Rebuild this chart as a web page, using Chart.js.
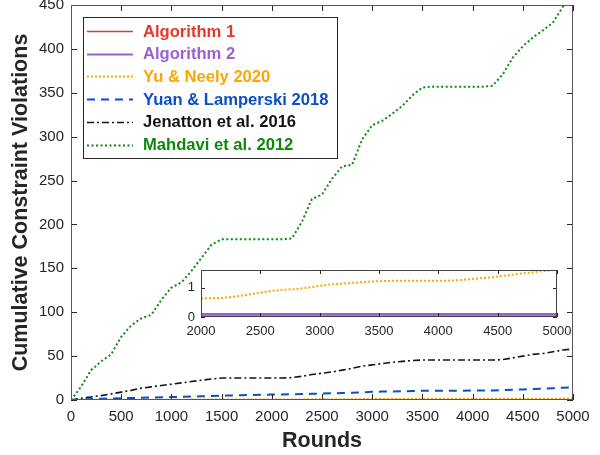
<!DOCTYPE html>
<html lang="en">

<head>
  <meta charset="UTF-8">
  <title>Cumulative Constraint Violations</title>
  <script src="https://cdn.jsdelivr.net/npm/chart.js"></script>
  <style>
    body { margin: 0; background: #fff; }
    .wrap { position: relative; width: 600px; height: 455px; }
    #mainChart { position: absolute; left: 0; top: 0; }
    #insetChart { position: absolute; left: 160px; top: 262px; }
  </style>
</head>

<body>
  <div class="wrap">
    <canvas id="mainChart" width="600" height="455"></canvas>
    <canvas id="insetChart" width="420" height="80"></canvas>
  </div>

  <script>
    // rounds (x values), every 100 rounds
    const rounds = [0, 100, 200, 300, 400, 500, 600, 700, 800, 900,
      1000, 1100, 1200, 1300, 1400, 1500, 1600, 1700, 1800, 1900,
      2000, 2100, 2200, 2300, 2400, 2500, 2600, 2700, 2800, 2900,
      3000, 3100, 3200, 3300, 3400, 3500, 3600, 3700, 3800, 3900,
      4000, 4100, 4200, 4300, 4400, 4500, 4600, 4700, 4800, 4900, 5000];

    const algo1 = [0, 0.03, 0.03, 0.03, 0.03, 0.03, 0.03, 0.03, 0.03, 0.03,
      0.03, 0.03, 0.03, 0.03, 0.03, 0.03, 0.03, 0.03, 0.03, 0.03,
      0.03, 0.03, 0.03, 0.03, 0.03, 0.03, 0.03, 0.03, 0.03, 0.03,
      0.03, 0.03, 0.03, 0.03, 0.03, 0.03, 0.03, 0.03, 0.03, 0.03,
      0.03, 0.03, 0.03, 0.03, 0.03, 0.03, 0.03, 0.03, 0.03, 0.03, 0.03];

    const algo2 = [0, 0.1, 0.1, 0.1, 0.1, 0.1, 0.1, 0.1, 0.1, 0.1,
      0.1, 0.1, 0.1, 0.1, 0.1, 0.1, 0.1, 0.1, 0.1, 0.1,
      0.1, 0.1, 0.1, 0.1, 0.1, 0.1, 0.1, 0.1, 0.1, 0.1,
      0.1, 0.1, 0.1, 0.1, 0.1, 0.1, 0.1, 0.1, 0.1, 0.1,
      0.1, 0.1, 0.1, 0.1, 0.1, 0.1, 0.1, 0.1, 0.1, 0.1, 0.1];

    const yuNeely = [0, 0.08, 0.13, 0.17, 0.2, 0.23, 0.26, 0.29, 0.32, 0.35,
      0.38, 0.4, 0.43, 0.46, 0.49, 0.52, 0.54, 0.56, 0.58, 0.6,
      0.63, 0.64, 0.66, 0.7, 0.76, 0.83, 0.89, 0.93, 0.95, 1.0,
      1.06, 1.11, 1.14, 1.17, 1.2, 1.22, 1.23, 1.23, 1.23, 1.23,
      1.23, 1.24, 1.26, 1.3, 1.33, 1.38, 1.43, 1.48, 1.52, 1.57, 1.61];

    const yuanLamperski = [0, 0.5, 1, 1.5, 1.8, 2, 2.3, 2.5, 2.8, 3,
      3.3, 3.6, 4, 4.2, 4.5, 5, 5.2, 5.5, 5.8, 6,
      6.2, 6.4, 6.5, 6.8, 7, 7.3, 7.6, 8, 8.4, 8.8,
      9.3, 9.6, 9.8, 10, 10.2, 10.4, 10.5, 10.6, 10.6, 10.6,
      10.7, 10.7, 10.7, 11.2, 11.6, 12, 12.5, 13, 13.5, 14, 14.5];

    const jenatton = [0, 2, 3.5, 5, 7, 9, 11, 13.5, 15, 16.5,
      18, 19.5, 21, 22.5, 24, 25, 25, 25, 25, 25,
      25, 25, 25.5, 27, 29, 30.5, 32, 34, 36, 38.5,
      40, 41.5, 43, 44, 45, 45.5, 45.5, 45.5, 45.5, 45.5,
      45.5, 45.5, 45.5, 46, 48, 50, 52, 53, 55, 57, 58];

    const mahdavi = [0, 15, 34, 44, 52, 72, 85, 93, 97, 114,
      128, 134, 147, 162, 177, 183, 183, 183, 183, 183,
      183, 183, 184, 203, 229, 234, 252, 266, 268, 297,
      313, 318, 326, 335, 347, 356, 357, 357, 357, 357,
      357, 357, 358, 371, 390, 403, 413, 421, 430, 448, 463];

    const seriesNames = ['Algorithm 1', 'Algorithm 2', 'Yu & Neely 2020',
      'Yuan & Lamperski 2018', 'Jenatton et al. 2016', 'Mahdavi et al. 2012'];
    const seriesColors = ['#e8382c', '#9b5fcf', '#ffa500', '#0a4fc6', '#141414', '#0b8a0b'];

    const xTicks = [0, 500, 1000, 1500, 2000, 2500, 3000, 3500, 4000, 4500, 5000];
    const yTicks = [0, 50, 100, 150, 200, 250, 300, 350, 400, 450];
    const insetXTicks = [2000, 2500, 3000, 3500, 4000, 4500, 5000];
    const insetYTicks = [0, 1];

    const FONT = "'Liberation Sans', Arial, Helvetica, sans-serif";
    const INK = '#262626';

    const pts = vals => rounds.map((r, i) => ({ x: r, y: vals[i] }));

    function makeDataset(i, vals) {
      const styles = [
        { borderWidth: 1.5, borderDash: [] },
        { borderWidth: 2, borderDash: [] },
        { borderWidth: 2, borderDash: [2, 2] },
        { borderWidth: 2, borderDash: [8, 6] },
        { borderWidth: 1.6, borderDash: [7, 3, 2, 3] },
        { borderWidth: 2, borderDash: [2, 2.5] }
      ];
      return {
        label: seriesNames[i],
        data: pts(vals),
        borderColor: seriesColors[i],
        backgroundColor: seriesColors[i],
        borderWidth: styles[i].borderWidth,
        borderDash: styles[i].borderDash,
        pointRadius: 0,
        tension: 0,
        fill: false,
        order: 6 - i
      };
    }

    // box + inward tick marks, matlab style
    const frameTicks = {
      id: 'frameTicks',
      beforeDatasetsDraw(chart, args, opts) {
        const { ctx, chartArea: a } = chart;
        if (opts.fill) {
          ctx.save();
          ctx.fillStyle = '#fff';
          ctx.fillRect(a.left, a.top, a.width, a.height);
          ctx.restore();
        }
      },
      afterDatasetsDraw(chart, args, opts) {
        const { ctx, chartArea: a, scales: { x, y } } = chart;
        const len = opts.len || 5;
        ctx.save();
        ctx.strokeStyle = INK;
        ctx.lineWidth = 1;
        ctx.beginPath();
        x.ticks.forEach(t => {
          const px = Math.round(x.getPixelForValue(t.value)) + 0.5;
          ctx.moveTo(px, a.bottom); ctx.lineTo(px, a.bottom - len);
          ctx.moveTo(px, a.top); ctx.lineTo(px, a.top + len);
        });
        y.ticks.forEach(t => {
          const py = Math.round(y.getPixelForValue(t.value)) + 0.5;
          ctx.moveTo(a.left, py); ctx.lineTo(a.left + len, py);
          ctx.moveTo(a.right, py); ctx.lineTo(a.right - len, py);
        });
        ctx.stroke();
        ctx.strokeStyle = opts.frame || '#555';
        ctx.strokeRect(Math.round(a.left) + 0.5, Math.round(a.top) + 0.5,
          Math.round(a.width) - 1, Math.round(a.height) - 1);
        ctx.restore();
      }
    };

    // legend drawn inside the axes, upper left
    const boxLegend = {
      id: 'boxLegend',
      afterDraw(chart) {
        const ctx = chart.ctx;
        const bx = 83, by = 17, bw = 254, bh = 141;
        ctx.save();
        ctx.fillStyle = '#fff';
        ctx.fillRect(bx, by, bw, bh);
        ctx.strokeStyle = INK;
        ctx.lineWidth = 1;
        ctx.strokeRect(bx + 0.5, by + 0.5, bw, bh);
        ctx.font = 'bold 16.6px ' + FONT;
        ctx.textBaseline = 'middle';
        chart.data.datasets.forEach((ds, i) => {
          const ry = 31 + i * 22.7;
          ctx.strokeStyle = ds.borderColor;
          ctx.lineWidth = ds.borderWidth;
          ctx.setLineDash(ds.borderDash);
          ctx.beginPath();
          ctx.moveTo(87, Math.round(ry) + 0.5);
          ctx.lineTo(133, Math.round(ry) + 0.5);
          ctx.stroke();
          ctx.setLineDash([]);
          ctx.fillStyle = ds.borderColor;
          ctx.fillText(ds.label, 143, ry + 1);
        });
        ctx.restore();
      }
    };

    function fixedTicks(list) {
      return s => { s.ticks = list.map(v => ({ value: v })); };
    }
    const plain = v => String(v);

    new Chart(document.getElementById('mainChart'), {
      type: 'line',
      data: {
        datasets: [
          makeDataset(0, algo1),
          makeDataset(1, algo2),
          makeDataset(2, yuNeely),
          makeDataset(3, yuanLamperski),
          makeDataset(4, jenatton),
          makeDataset(5, mahdavi)
        ]
      },
      options: {
        responsive: false,
        animation: false,
        devicePixelRatio: 1,
        layout: { padding: { top: 5, right: 27, left: 0, bottom: 0 } },
        plugins: {
          legend: { display: false },
          tooltip: { enabled: false },
          frameTicks: { len: 6, frame: '#555' }
        },
        scales: {
          x: {
            type: 'linear', min: 0, max: 5000,
            afterBuildTicks: fixedTicks(xTicks),
            ticks: { color: INK, font: { size: 15, family: FONT }, padding: 8, maxRotation: 0, autoSkip: false, callback: plain },
            grid: { display: false, drawTicks: false },
            border: { display: false },
            title: { display: true, text: 'Rounds', color: INK, font: { size: 21.5, weight: 'bold', family: FONT }, padding: { top: 0, bottom: 1 } },
            afterFit(s) { s.height = 55; s.paddingLeft = 0; s.paddingRight = 0; }
          },
          y: {
            type: 'linear', min: 0, max: 450,
            afterBuildTicks: fixedTicks(yTicks),
            ticks: { color: INK, font: { size: 15, family: FONT }, padding: 7, callback: plain },
            grid: { display: false, drawTicks: false },
            border: { display: false },
            title: { display: true, text: 'Cumulative Constraint Violations', color: INK, font: { size: 21.5, weight: 'bold', family: FONT }, padding: { top: 8, bottom: 0 } },
            afterFit(s) { s.width = 71; s.paddingTop = 0; s.paddingBottom = 0; }
          }
        }
      },
      plugins: [frameTicks, boxLegend]
    });

    // zoomed inset, rounds 2000-5000
    new Chart(document.getElementById('insetChart'), {
      type: 'line',
      data: {
        datasets: [
          makeDataset(0, algo1),
          makeDataset(1, algo2),
          makeDataset(2, yuNeely)
        ]
      },
      options: {
        responsive: false,
        animation: false,
        devicePixelRatio: 1,
        layout: { padding: { top: 8, right: 23, left: 0, bottom: 0 } },
        plugins: {
          legend: { display: false },
          tooltip: { enabled: false },
          frameTicks: { len: 4, fill: true, frame: '#444' }
        },
        scales: {
          x: {
            type: 'linear', min: 2000, max: 5000,
            afterBuildTicks: fixedTicks(insetXTicks),
            ticks: { color: INK, font: { size: 13, family: FONT }, padding: 7, maxRotation: 0, autoSkip: false, callback: plain },
            grid: { display: false, drawTicks: false },
            border: { display: false },
            afterFit(s) { s.height = 25; s.paddingLeft = 0; s.paddingRight = 0; }
          },
          y: {
            type: 'linear', min: 0, max: 1.6,
            afterBuildTicks: fixedTicks(insetYTicks),
            ticks: { color: INK, font: { size: 13, family: FONT }, padding: 6, callback: plain },
            grid: { display: false, drawTicks: false },
            border: { display: false },
            afterFit(s) { s.width = 41; s.paddingTop = 0; s.paddingBottom = 0; }
          }
        }
      },
      plugins: [frameTicks]
    });
  </script>
</body>

</html>
